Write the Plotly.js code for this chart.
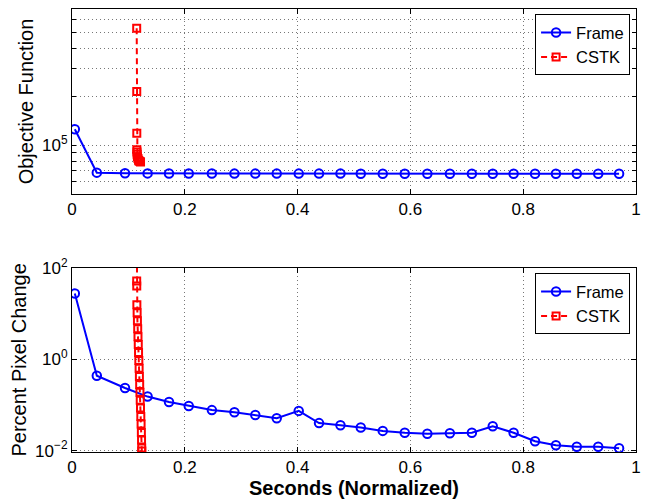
<!DOCTYPE html>
<html>
<head>
<meta charset="utf-8">
<script src="https://cdn.plot.ly/plotly-3.0.1.min.js"></script>
<style>html,body{margin:0;padding:0;background:#fff;}#chart{width:648px;height:499px;}</style>
</head>
<body>
<div id="chart"></div>
<script>
// Frame series (shared x)
const frameX = [0.005, 0.044, 0.094, 0.134, 0.172, 0.207, 0.248, 0.288, 0.325, 0.363, 0.402, 0.438, 0.476, 0.512, 0.551, 0.590, 0.630, 0.670, 0.709, 0.746, 0.783, 0.821, 0.858, 0.895, 0.933, 0.970];
const frameObjective = [126000, 67800, 67300, 67100, 67000, 67000, 67000, 66900, 66900, 66900, 66900, 66900, 66900, 66800, 66800, 66800, 66800, 66800, 66800, 66800, 66800, 66800, 66800, 66800, 66800, 66800];
const framePixel = [27.2, 0.435, 0.234, 0.152, 0.116, 0.095, 0.077, 0.069, 0.060, 0.051, 0.074, 0.040, 0.036, 0.032, 0.027, 0.0246, 0.0234, 0.0239, 0.0246, 0.034, 0.0246, 0.016, 0.0131, 0.0122, 0.0122, 0.0113];

// CSTK series
const cstkObjX = [0.1147, 0.1148, 0.1149, 0.1150, 0.1152, 0.1155, 0.1160, 0.1170, 0.1180, 0.1190, 0.1205, 0.1215];
const cstkObjective = [532000, 216000, 119000, 94000, 91000, 88000, 85000, 83000, 81000, 80000, 79500, 79000];
const cstkPixX = [0.1147, 0.1147, 0.1148, 0.1150, 0.1155, 0.1160, 0.1165, 0.1170, 0.1175, 0.1180, 0.1185, 0.1190, 0.1195, 0.1200, 0.1205, 0.1210, 0.1215, 0.1220, 0.1225, 0.1230, 0.1233, 0.1236, 0.1238];
const cstkPixel = [800, 51, 40, 15.5, 10.4, 6.9, 4.6, 3.1, 2.1, 1.4, 0.94, 0.63, 0.42, 0.28, 0.19, 0.126, 0.085, 0.056, 0.038, 0.025, 0.017, 0.0114, 0.0098];

// Tick labels
const xTickVals = [0, 0.2, 0.4, 0.6, 0.8, 1];
const xTickText = ['0', '0.2', '0.4', '0.6', '0.8', '1'];
const objTickVals = [50000, 60000, 70000, 80000, 90000, 100000, 200000, 300000, 400000, 500000, 600000, 700000];
const objTickText = ['', '', '', '', '', '10<sup>5</sup>', '', '', '', '', '', ''];
const pixTickVals = [0.01, 1, 100];
const pixTickText = ['10<sup>\u22122</sup>', '10<sup>0</sup>', '10<sup>2</sup>'];

const blue = '#0000ff', red = '#ff0000';
const frameStyle = {mode: 'lines+markers', name: 'Frame', line: {color: blue, width: 2}, marker: {symbol: 'circle-open', size: 8.5, color: blue, line: {width: 2, color: blue}}};
const cstkStyle = {mode: 'lines+markers', name: 'CSTK', line: {color: red, width: 2, dash: '6px,4px'}, marker: {symbol: 'square-open', size: 7, color: red, line: {width: 2, color: red}}};

const traces = [
  Object.assign({x: frameX, y: frameObjective, xaxis: 'x', yaxis: 'y', legend: 'legend'}, frameStyle),
  Object.assign({x: cstkObjX, y: cstkObjective, xaxis: 'x', yaxis: 'y', legend: 'legend'}, cstkStyle),
  Object.assign({x: frameX, y: framePixel, xaxis: 'x2', yaxis: 'y2', legend: 'legend2'}, frameStyle),
  Object.assign({x: cstkPixX, y: cstkPixel, xaxis: 'x2', yaxis: 'y2', legend: 'legend2'}, cstkStyle)
];

const font = {family: '"Liberation Sans", Arial, Helvetica, sans-serif', size: 17, color: '#000'};
const axisBase = {
  showline: true, linecolor: '#000', linewidth: 1, mirror: 'ticks',
  ticks: 'inside', ticklen: 5, tickcolor: '#000', tickwidth: 1,
  showgrid: true, gridcolor: '#777', gridwidth: 1, griddash: '1px,3px',
  zeroline: false, tickfont: {size: 17}
};
const xBase = Object.assign({}, axisBase, {range: [0, 1], tickmode: 'array', tickvals: xTickVals, ticktext: xTickText});

const legendBase = {
  xref: 'paper', yref: 'paper', xanchor: 'right', yanchor: 'top', x: 0.9895,
  bgcolor: '#fff', bordercolor: '#000', borderwidth: 1,
  font: {size: 16.5}, itemwidth: 30, tracegroupgap: 0
};

const layout = {
  width: 648, height: 499,
  margin: {l: 72, r: 12, t: 9, b: 47},
  paper_bgcolor: '#fff', plot_bgcolor: '#fff',
  font: font,
  showlegend: true,
  xaxis: Object.assign({}, xBase, {anchor: 'y', domain: [0, 1]}),
  yaxis: Object.assign({}, axisBase, {
    anchor: 'x', type: 'log', domain: [0.5824, 1], range: [4.699, 5.845],
    tickmode: 'array', tickvals: objTickVals, ticktext: objTickText, ticklen: 4,
    title: {text: 'Objective Function', font: {size: 20}, standoff: 3}
  }),
  xaxis2: Object.assign({}, xBase, {anchor: 'y2', domain: [0, 1],
    title: {text: '<b>Seconds (Normalized)</b>', font: {size: 20}, standoff: 4}}),
  yaxis2: Object.assign({}, axisBase, {
    anchor: 'x2', type: 'log', domain: [0, 0.416], range: [-2.03, 2],
    tickmode: 'array', tickvals: pixTickVals, ticktext: pixTickText,
    title: {text: 'Percent Pixel Change', font: {size: 20}, standoff: 3}
  }),
  legend: Object.assign({}, legendBase, {y: 0.988}),
  legend2: Object.assign({}, legendBase, {y: 0.4034})
};

Plotly.newPlot('chart', traces, layout, {displayModeBar: false, staticPlot: true});
</script>
</body>
</html>
